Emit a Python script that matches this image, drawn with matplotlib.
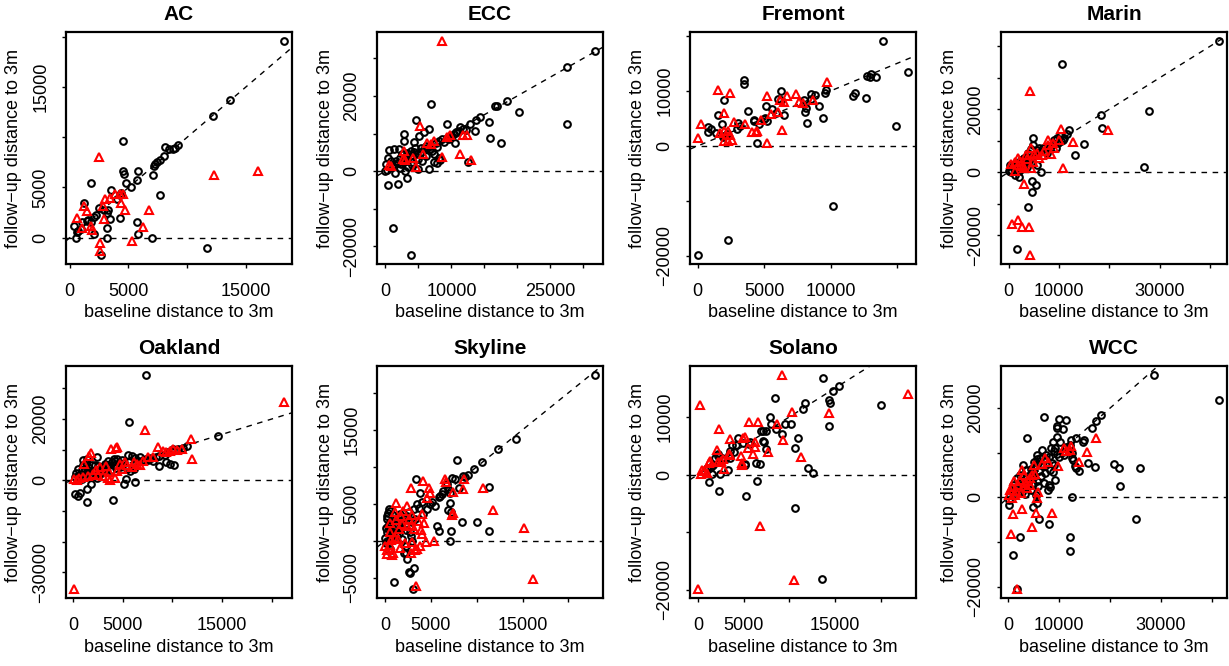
import matplotlib
matplotlib.use("Agg")
import matplotlib.pyplot as plt
import numpy as np

plt.rcParams["font.family"] = ["Liberation Sans", "DejaVu Sans"]

MINUS = "\u2212"
XLAB = "baseline distance to 3m"
YLAB = "follow" + MINUS + "up distance to 3m"

# ── data ───────────────────────────────────────────────────────────

ac_black = [(18200, 19600), (13650, 13700), (12150, 12150), (9250, 9250), (8950, 8950), (8750, 8800),
            (8450, 8800), (8100, 9050), (8050, 8100), (7700, 7750), (7450, 7550), (7300, 7350), (7200, 7150),
            (7050, 6250), (4550, 9650), (4550, 6650), (4600, 6350), (5850, 6650), (5750, 5750), (4800, 5450),
            (5200, 5000), (1800, 5450), (7650, 4250), (3550, 4750), (4250, 4250), (4000, 3850), (4350, 4450),
            (1250, 3500), (2500, 3000), (2950, 2750), (3300, 2750), (3150, 2450), (2250, 2300), (2050, 2050),
            (1600, 1750), (1850, 1600), (1450, 1650), (1050, 1550), (4250, 2000), (3450, 1850), (3200, 1000),
            (400, 1150), (700, 650), (600, 550), (1000, 900), (550, -50), (2100, 400), (3200, -50), (5700, 1600),
            (5850, 350), (7000, -50), (2700, -1750), (11650, -1050)]
ac_red = [(2500, 8000), (12250, 6250), (16050, 6650), (650, 2000), (1200, 3150), (1500, 2650), (1050, 1000),
          (1850, 1150), (1900, 800), (2850, 3150), (3000, 3900), (3400, 4000), (3850, 4350), (4300, 4350),
          (4500, 4350), (4350, 3450), (4700, 2750), (2950, 1850), (6750, 2750), (6200, 1050), (5300, -350),
          (2600, -550), (2550, -1350)]

ecc_black = [(31700, 32000), (27500, 27700), (27500, 12600), (18500, 18700), (16850, 17350), (16650, 17250),
             (20250, 15800), (15700, 13150), (15850, 8900), (17450, 7400), (14350, 14400), (13750, 13700),
             (12750, 12450), (13600, 10650), (12450, 2500), (11350, 11750), (11100, 10650), (10650, 10500),
             (10350, 9950), (9850, 9400), (9350, 8900), (10500, 7400), (9350, 12600), (6950, 17950), (4650, 13700),
             (5050, 9250), (5850, 10300), (6550, 11100), (2850, 9950), (2850, 8000), (1350, 5950), (500, 5700),
             (2100, 5850), (2450, 4450), (4350, 7800), (4450, 6200), (6350, 6200), (6950, 6650), (7600, 7450),
             (8100, 8000), (8600, 8450), (7350, 4450), (8150, 3550), (8350, 2850), (7750, 2200), (7350, 2500),
             (6600, 700), (4950, 700), (350, 3550), (150, 1950), (850, 2650), (1350, 1800), (1850, 2200),
             (2350, 1800), (3350, 2650), (3850, 3550), (3350, 4900), (3850, 5350), (4350, 5150), (5350, 6200),
             (5850, 5800), (450, -3750), (1850, -3300), (1450, -600), (3250, -1800), (2950, 0), (4100, 1500),
             (1100, -15100), (3950, -22400), (0, 0), (250, 200),
             (1000, 1000), (1600, 2600), (2200, 3500), (2700, 2300), (3000, 3400), (4000, 4200), (4800, 4600),
             (5400, 5200), (6100, 6600), (6700, 6000), (7100, 5400), (5000, 3300), (5500, 2600), (7800, 6500),
             (8900, 7700), (9600, 8500), (10000, 9200), (10900, 10300), (11700, 11300), (12200, 11000),
             (4000, 2500), (3500, 1000), (2200, 800), (6200, 4000)]
ecc_red = [(8600, 34700), (5250, 11900), (2850, 5350), (2600, 3100), (2950, 3000), (5750, 4450), (6350, 7400),
           (8600, 3750), (9350, 9050), (9850, 9600), (11350, 4450), (11750, 9500), (12350, 9600), (13000, 3000),
           (4600, 1150), (4250, 3400), (600, 1600), (850, 1350), (7350, 8000), (6950, 7100)]

fremont_black = [(13950, 19150), (15800, 13500), (14950, 3550), (12750, 12700), (13050, 13150), (13000, 12450),
                 (13400, 12450), (12700, 8650), (11700, 9000), (11850, 9650), (9650, 10250), (9600, 9650),
                 (9100, 7300), (9400, 5100), (8850, 9200), (8500, 9500), (8550, 8550), (8000, 8400), (8150, 6950),
                 (8100, 6100), (8200, 4250), (6250, 10050), (6050, 8600), (6250, 8300), (6500, 5650), (5600, 6700),
                 (5900, 6000), (5150, 7300), (5100, 5100), (5200, 4500), (5000, 4900), (4600, 4000), (4250, 4500),
                 (4200, 4750), (4500, 600), (3750, 6350), (3450, 11950), (3500, 11350), (3000, 4250), (3150, 3700),
                 (2950, 3100), (2000, 8300), (1500, 5550), (1800, 3900), (800, 3400), (1000, 3100), (750, 2600),
                 (1400, 2300), (2000, 1850), (2200, 2200), (1900, 1600), (50, -19900), (2250, -17150),
                 (10200, -10850)]
fremont_red = [(9750, 11650), (1550, 10250), (2400, 9700), (250, 4000), (50, 1450), (2000, 6000), (2750, 4350),
               (3550, 3900), (4050, 2450), (4400, 2600), (4500, 2800), (4750, 4800), (5200, 9000), (5200, 600),
               (5500, 5750), (6050, 6100), (6200, 8300), (6500, 7950), (6350, 2950), (6750, 9000), (7400, 9500),
               (7650, 7950), (7900, 7800), (8650, 8300), (1700, 2300), (2000, 2800), (2250, 2700), (2400, 1950),
               (2550, 1000), (2000, 850), (2250, 850)]

marin_black = [(41700, 41800), (10600, 34300), (27900, 19400), (18250, 18300), (18500, 14200), (26900, 1600),
               (14950, 8900), (13200, 5350), (12000, 13350), (11650, 12300), (11000, 11000), (10250, 11650),
               (9700, 10800), (9050, 10150), (8800, 8900), (9400, 7800), (7950, 7800), (7200, 6750), (6450, 6750),
               (6100, 7800), (5900, 5650), (4850, 10800), (4850, 8650), (4350, 7250), (3800, 6200), (3150, 4600),
               (2500, 3750), (1850, 2450), (1200, 1800), (500, 850), (250, 2450), (150, 550), (500, 100),
               (3500, 3550), (4150, 4600), (5450, 6200), (2800, 1400), (2150, 300), (1500, 1400), (5650, 2250),
               (6450, 100), (4700, -2650), (5500, -4150), (4700, -6300), (3800, -11000), (1300, -950),
               (2100, -1400), (1700, -24500), (10350, 9950),
               (900, 1900), (1600, 3000), (2200, 2200), (2800, 4200), (3300, 2800), (3700, 5000), (4100, 3600),
               (5000, 5200), (5700, 7000), (6800, 7800), (7600, 6200), (8400, 8300), (9900, 9400), (10800, 10300),
               (1200, 500), (2500, 900), (3600, 1800)]
marin_red = [(4250, 25800), (10350, 13600), (19650, 13350), (12800, 9650), (7850, 10150), (10750, 1400),
             (3150, -3750), (650, -16350), (1950, -15300), (2750, -17450), (3950, -17450), (4150, -26400),
             (500, 2650), (1850, 4600), (2500, 2450), (4450, 7800), (5100, 5650), (6100, 4600), (7100, 6750),
             (8400, 5650), (9050, 7800), (4450, 1400), (3150, 1400), (1300, 550),
             (1300, 3300), (2200, 3600), (3700, 4100), (4800, 3200), (5600, 6200), (6700, 5400), (7800, 8600),
             (8900, 9200), (10100, 10100), (2800, 2100), (3500, 5600)]

oakland_black = [(7350, 34500), (5600, 19100), (14600, 14500), (11450, 11200), (11050, 10550), (10600, 10350),
                 (10100, 10100), (9900, 9450), (9600, 9250), (9250, 8350), (8700, 7900), (8400, 7600), (7900, 7250),
                 (7400, 7050), (7100, 6500), (9400, 5950), (9750, 5400), (10150, 4850), (8700, 4600), (8100, 6150),
                 (6600, 6350), (6250, 7250), (5900, 7900), (5500, 8350), (1050, 6700), (1400, 7050), (2400, 7700),
                 (4150, 7050), (4400, 6800), (3400, 4850), (4100, 4850), (4750, 4300), (5400, 3750), (5750, 3200),
                 (6100, 3750), (250, -4500), (550, -5050), (750, -4200), (1450, -7050), (1400, -2850), (1800, -1300),
                 (4000, -6500), (5150, -1200), (5350, 450), (6250, -650), (900, 450), (1050, 1550), (1400, 2650),
                 (1750, 2100), (2050, 1300), (2400, 650), (2750, 2000), (3050, 2650), (550, 3750), (900, 3500),
                 (1250, 3750), (1550, 4300), (1900, 4850), (2250, 5050), (2550, 4600), (2900, 4300), (3250, 5400),
                 (3600, 4850), (3900, 5950), (4250, 6150), (4600, 5700), (4900, 6500),
                 (200, 1000), (500, 1500), (800, 2200), (1200, 1000), (1600, 3200), (2000, 3000), (2600, 3300),
                 (3000, 3600), (3300, 3000), (3800, 3500), (4300, 4000), (4700, 4900), (5100, 5700), (5600, 6000),
                 (6800, 7500), (7600, 6600), (300, 2500), (1000, 5000), (1300, 5800), (3500, 6400)]
oakland_red = [(21200, 25700), (7300, 16500), (11850, 13400), (11950, 7050), (4400, 11000), (4300, 10550),
               (3800, 10100), (1800, 9000), (1650, 7900), (1150, 5400), (8600, 10900), (9100, 9450), (9750, 9650),
               (10100, 10100), (10950, 10350), (150, 450), (400, 200), (650, 650), (1050, 1100), (1550, 1550),
               (2050, 2100), (2550, 1750), (3050, 1300), (4400, 3200), (4900, 3750), (5400, 4850), (5900, 4300),
               (6400, 5400), (6750, 4850), (7600, 7600), (150, -35600), (3750, 200),
               (2700, 4200), (3300, 4600), (3600, 2600), (4700, 5300), (5200, 6000), (6100, 6100), (7100, 6200),
               (8100, 7700), (9400, 9100), (10500, 9900), (2300, 3300), (3500, 800), (4200, 900)]

skyline_black = [(22850, 22450), (14300, 13750), (12300, 12350), (10600, 10650), (9700, 9750), (9050, 8950),
                 (8700, 8600), (8550, 8750), (7800, 10900), (8100, 7100), (11350, 7300), (7350, 8550), (7650, 8400),
                 (6750, 7700), (6900, 6950), (7100, 6400), (6350, 6800), (6200, 6350), (6000, 6050), (5850, 5900),
                 (7100, 5100), (6900, 4200), (7250, 3850), (8350, 2600), (10050, 2600), (11350, 1400), (7150, 1300),
                 (7100, 0), (5650, 2050), (5850, 1300), (5450, 4750), (5100, 5300), (4950, 5000), (4550, 4300),
                 (4200, 3600), (3400, 8400), (3850, 6400), (3500, 5000), (3150, 4300), (2600, 3850), (2400, 3400),
                 (2050, 2950), (1700, 2500), (1350, 2250), (950, 2050), (600, 1600), (250, 1150), (50, 450), (200, 0),
                 (450, 4300), (600, 4100), (250, 3400), (200, 2950), (900, 3500), (1250, 3150), (1600, 3600),
                 (2950, 0), (2850, 700), (2700, 1200), (450, -1350), (600, -1150), (2250, -700), (2050, -1600),
                 (2250, -1700), (2400, -2500), (2600, -4200), (2750, -4300), (3150, -3600), (950, -5550),
                 (3050, -6550), (100, -250),
                 (300, 2000), (500, 2500), (800, 1000), (1100, 1500), (1500, 1000), (1800, 1800), (2200, 2200),
                 (700, 500), (1300, 600), (1900, 300), (2300, 1500), (350, 3800), (150, 1800), (1000, 2700),
                 (3300, 3000), (3700, 4500), (4000, 5200), (2900, 2600)]
skyline_red = [(15200, 1700), (16150, -5100), (11750, 4200), (10700, 7100), (8600, 8300), (8550, 6950), (7450, 6650),
               (6550, 8400), (6650, 7950), (7400, 3750), (7300, 3500), (4150, 8050), (2850, 7200), (4850, 7100),
               (4950, 6500), (4550, 5750), (1250, 5100), (2400, 4750), (1050, 3950), (1500, 1600), (1850, 2250),
               (2400, 2050), (2850, 1950), (3200, 1600), (3650, 2700), (4050, 3600), (4300, 2400), (4050, 900),
               (4500, -150), (3850, -700), (3550, -1050), (3300, -1200), (2850, -1600), (900, -1600), (800, -1950),
               (250, -1800), (50, -700), (550, 1150), (700, 150), (1050, 450), (1400, 250), (5350, 0), (3350, -6050),
               (600, 2400), (1200, 2800), (1700, 3300), (2000, 4000), (2600, 3000), (3000, 3500), (3900, 1500),
               (200, -1200), (1600, -1000), (2200, -300), (3000, -200), (600, -600)]

solano_black = [(13700, 16750), (15450, 15450), (14800, 14550), (14300, 12950), (14400, 12450), (11750, 12500),
                (11450, 11400), (20000, 12000), (14300, 8350), (8400, 13250), (7850, 10000), (7950, 8850),
                (8600, 7900), (9150, 7100), (9500, 8700), (10150, 8700), (6950, 7650), (7150, 7550), (7500, 7550),
                (7150, 5800), (7250, 5700), (7400, 4400), (10950, 6300), (10600, 4550), (12050, 1150), (12550, 350),
                (6400, 2000), (6800, 1850), (6500, -1150), (5250, -3700), (10600, -5700), (13600, -18150),
                (2300, -2900), (1250, -1300), (1500, 150), (2450, 150), (3250, 800), (5150, 1750), (5200, 1850),
                (4950, 5450), (5600, 5350), (5700, 5600), (4350, 6300), (4150, 5100), (3700, 5100), (3500, 4050),
                (3900, 3950), (3350, 3350), (3500, 2900), (2950, 2800), (2600, 2900), (2150, 3600), (2250, 3250),
                (1900, 2900), (1600, 1650), (1450, 1350), (1150, 1050), (1000, 1150)]
solano_red = [(9200, 17350), (22950, 14050), (250, 12000), (10300, 10950), (14350, 10700), (5600, 9050),
              (6600, 9200), (8700, 8700), (2300, 7900), (3550, 6150), (4950, 6400), (5150, 6500), (5450, 4650),
              (6250, 5600), (6300, 4750), (6000, 3600), (7700, 3950), (9300, 6000), (11250, 3000), (4700, 3250),
              (4800, 2000), (4850, 1750), (2050, 4300), (3350, 3600), (3500, 3350), (2250, 2200), (2550, 2350),
              (2700, 2800), (1350, 2350), (1250, 2100), (2900, 1050), (500, 750), (700, 600), (350, 150), (1000, 250),
              (6750, -8850), (10500, -18350), (50, -19900)]

wcc_black = [(28550, 27500), (41350, 21700), (18300, 18350), (17200, 17150), (16400, 15500), (14600, 12500),
             (14850, 12800), (13400, 13400), (12400, 12900), (12100, 11750), (12600, 9900), (12750, 8400),
             (12600, 8900), (15700, 7800), (16950, 6900), (20850, 7400), (21750, 6650), (25950, 6500),
             (21900, 2550), (25050, -4850), (13050, 7100), (13900, 5900), (13400, 6650), (12600, 50),
             (12100, -8900), (12100, -12050), (7000, 17900), (10000, 17450), (11300, 17300), (9600, 16100),
             (9600, 15500), (10650, 15350), (3750, 13400), (6550, 10650), (8300, 11000), (9150, 11000),
             (10150, 12350), (11300, 11300), (9600, 9650), (10800, 10100), (5700, 8600), (7400, 8600), (8500, 7700),
             (8950, 7250), (8150, 6050), (8800, 5750), (9150, 3950), (7900, 2750), (8150, 2400), (7800, 1700),
             (4900, 4250), (5550, 3650), (4900, 3050), (5900, 2600), (5400, 500), (2950, 7250), (3450, 6200),
             (2300, 5000), (1650, 4250), (1000, 2750), (650, 1650), (350, 650), (200, -600), (2300, 3500),
             (3600, 4250), (4250, 5000), (4900, 5750), (5250, 6900), (5900, 7650), (6200, 8750), (5550, 9500),
             (200, -1700), (4750, -2150), (5700, -1350), (6100, -4850), (8050, -6050), (2300, -8900),
             (850, -12800), (1750, -20450),
             (1200, 1500), (1500, 2200), (2500, 2000), (2800, 3000), (3200, 2500), (3800, 3000), (4100, 3800),
             (4500, 6300), (5000, 8000), (6000, 6000), (6800, 7000), (7200, 5500), (7500, 9500), (8000, 9000),
             (9000, 10500), (10000, 9000), (11000, 9500), (11700, 10700), (6500, 4700), (7100, 3300), (1800, 1000),
             (2700, 1200), (3300, 800), (4400, 1700), (9500, 13500), (8800, 12300)]
wcc_red = [(17300, 13250), (15500, 10250), (13900, 8000), (12400, 11600), (12100, 10650), (10900, 11000),
           (9800, 6950), (7200, 8750), (7850, 8000), (5050, 7250), (4600, 5000), (2600, 6150), (3050, 5000),
           (2300, 3900), (1100, 3650), (650, 2400), (350, 1650), (200, 500), (650, -200), (1300, 500), (3600, 2000),
           (4250, 2750), (5900, 1250), (5700, -200), (950, -3800), (2700, -2600), (5400, -3600), (8500, -3500),
           (4650, -6600), (450, -8300), (1750, -20600),
           (1500, 1500), (1900, 2700), (2500, 1000), (3200, 3200), (3900, 3600), (4300, 4300), (5300, 5300),
           (6600, 7400), (11400, 10300)]

# tick positions and labels (R drops labels that would collide -> "")
ac_xt, ac_xl = [0, 5000, 10000, 15000], ["0", "5000", "", "15000"]
ac_yt, ac_yl = [0, 5000, 10000, 15000, 20000], ["0", "5000", "", "15000", ""]
ecc_xt, ecc_xl = [0, 5000, 10000, 15000, 20000, 25000, 30000], ["0", "", "10000", "", "", "25000", ""]
ecc_yt, ecc_yl = [-20000, -10000, 0, 10000, 20000, 30000], [MINUS + "20000", "", "0", "", "20000", ""]
fre_xt, fre_xl = [0, 5000, 10000, 15000], ["0", "5000", "10000", ""]
fre_yt, fre_yl = [-20000, -10000, 0, 10000, 20000], [MINUS + "20000", "", "0", "10000", ""]
mar_xt, mar_xl = [0, 10000, 20000, 30000, 40000], ["0", "10000", "", "30000", ""]
mar_yt, mar_yl = [-20000, -10000, 0, 10000, 20000, 30000, 40000], [MINUS + "20000", "", "0", "", "20000", "", ""]
oak_xt, oak_xl = [0, 5000, 10000, 15000, 20000], ["0", "5000", "", "15000", ""]
oak_yt, oak_yl = [-30000, -20000, -10000, 0, 10000, 20000, 30000], [MINUS + "30000", "", "", "0", "", "20000", ""]
sky_xt, sky_xl = [0, 5000, 10000, 15000, 20000], ["0", "5000", "", "15000", ""]
sky_yt, sky_yl = [-5000, 0, 5000, 10000, 15000, 20000], [MINUS + "5000", "", "5000", "", "15000", ""]
sol_xt, sol_xl = [0, 5000, 10000, 15000, 20000], ["0", "5000", "", "15000", ""]
sol_yt, sol_yl = [-20000, -10000, 0, 10000], [MINUS + "20000", "", "0", "10000"]
wcc_xt, wcc_xl = [0, 10000, 20000, 30000, 40000], ["0", "10000", "", "30000", ""]
wcc_yt, wcc_yl = [-20000, -10000, 0, 10000, 20000], [MINUS + "20000", "", "0", "", "20000"]

panels = [
    ("AC", ac_black, ac_red, ac_xt, ac_xl, ac_yt, ac_yl),
    ("ECC", ecc_black, ecc_red, ecc_xt, ecc_xl, ecc_yt, ecc_yl),
    ("Fremont", fremont_black, fremont_red, fre_xt, fre_xl, fre_yt, fre_yl),
    ("Marin", marin_black, marin_red, mar_xt, mar_xl, mar_yt, mar_yl),
    ("Oakland", oakland_black, oakland_red, oak_xt, oak_xl, oak_yt, oak_yl),
    ("Skyline", skyline_black, skyline_red, sky_xt, sky_xl, sky_yt, sky_yl),
    ("Solano", solano_black, solano_red, sol_xt, sol_xl, sol_yt, sol_yl),
    ("WCC", wcc_black, wcc_red, wcc_xt, wcc_xl, wcc_yt, wcc_yl),
]

# ── layout ─────────────────────────────────────────────────────────

W, H = 1229, 666
COL_LEFT = [66, 377, 690, 1001]
ROW_TOP = [32, 366]
AX_W, AX_H = 226, 232
FS = 13


def draw(ax, name, black, red, xt, xl, yt, yl):
    b = np.array(black, dtype=float)
    r = np.array(red, dtype=float)
    allp = np.vstack([b, r])
    x0, x1 = allp[:, 0].min(), allp[:, 0].max()
    y0, y1 = allp[:, 1].min(), allp[:, 1].max()
    dx, dy = (x1 - x0) * 0.04, (y1 - y0) * 0.04
    ax.set_xlim(x0 - dx, x1 + dx)
    ax.set_ylim(y0 - dy, y1 + dy)

    ax.axline((0, 0), slope=1, color="black", lw=1.0, ls=(0, (4, 4)), zorder=1)
    ax.axhline(0, color="black", lw=1.0, ls=(0, (4, 4)), zorder=1)

    ax.plot(b[:, 0], b[:, 1], ls="none", marker="o", ms=4.8, mfc="none",
            mec="black", mew=1.5, zorder=2)
    ax.plot(r[:, 0], r[:, 1], ls="none", marker="^", ms=5.6, mfc="none",
            mec="#ff0000", mew=1.5, zorder=3)

    ax.set_xticks(xt)
    ax.set_xticklabels(xl, fontsize=FS)
    ax.set_yticks(yt)
    ax.set_yticklabels(yl, fontsize=FS, rotation=90, va="center", ha="right")
    ax.tick_params(axis="x", length=3, width=1, pad=11)
    ax.tick_params(axis="y", length=3, width=1, pad=9)
    for sp in ax.spines.values():
        sp.set_linewidth(1.6)

    ax.set_title(name, fontsize=15, fontweight="bold", pad=9)
    ax.set_xlabel(XLAB, fontsize=FS)
    ax.xaxis.set_label_coords(0.5, -49 / AX_H)
    ax.xaxis.label.set_va("center")
    ax.set_ylabel(YLAB, fontsize=FS)
    ax.yaxis.set_label_coords(-52 / AX_W, 0.5)
    ax.yaxis.label.set_va("center")


fig = plt.figure(figsize=(W / 100, H / 100), dpi=100)
fig.patch.set_facecolor("white")

for i, (name, black, red, xt, xl, yt, yl) in enumerate(panels):
    left = COL_LEFT[i % 4]
    top = ROW_TOP[i // 4]
    ax = fig.add_axes([left / W, 1 - (top + AX_H) / H, AX_W / W, AX_H / H])
    draw(ax, name, black, red, xt, xl, yt, yl)

fig.savefig("out.png", dpi=100, facecolor="white")
